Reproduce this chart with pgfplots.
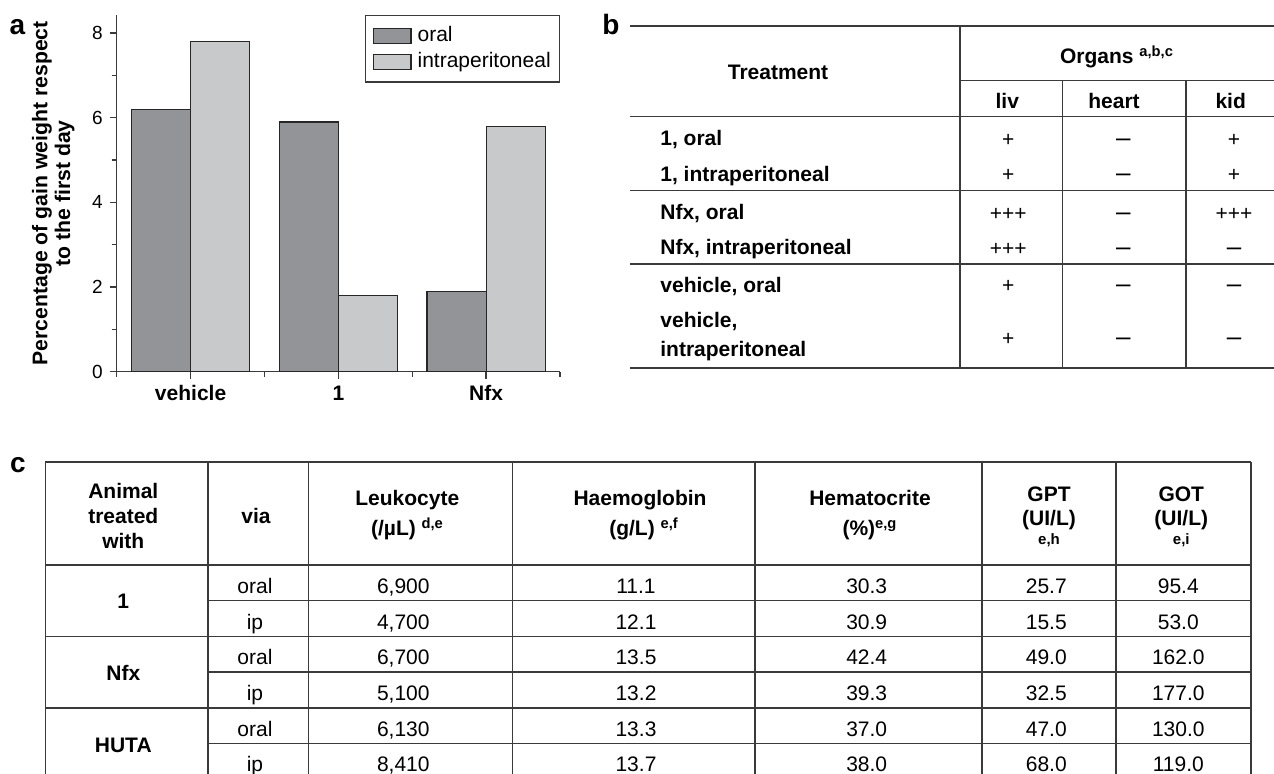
\documentclass[border=0pt]{standalone}
\usepackage{fontspec}
\setmainfont{Liberation Sans}
\usepackage{pgfplots}
\pgfplotsset{compat=1.18}

\definecolor{oralgray}{HTML}{939498}
\definecolor{ipgray}{HTML}{C8C9CB}
\definecolor{linegray}{HTML}{3A3A3A}

\newcommand{\pl}{+}
\newcommand{\mn}{{\fontsize{13}{14}\selectfont\textendash}}

\begin{document}
\begin{tikzpicture}
\path[use as bounding box] (0,0) rectangle (637pt,-387pt);

% panel a: weight gain
\begin{axis}[
  at={(58.35pt,-185.8pt)}, anchor=south west,
  scale only axis, width=221.65pt, height=178.3pt,
  xmin=-0.5, xmax=2.5, ymin=0, ymax=8.43,
  axis lines=left,
  axis line style={-, draw=linegray, line width=0.7pt},
  every tick/.style={draw=linegray, line width=0.7pt},
  every minor tick/.style={draw=linegray, line width=0.7pt},
  tick align=outside,
  major tick length=3.5pt, minor tick length=2.5pt,
  xtick={0,1,2}, xticklabels={vehicle,1,Nfx},
  minor xtick={-0.5,0.5,1.5,2.5},
  ytick={0,2,4,6,8}, minor ytick={1,3,5,7},
  /pgf/number format/assume math mode=true,
  yticklabel style={font=\fontsize{9.5}{11}\selectfont},
  xticklabel style={font=\bfseries\fontsize{10.5}{12}\selectfont},
  ylabel={Percentage of gain weight respect\\to the first day},
  ylabel style={font=\bfseries\fontsize{10.6}{11.4}\selectfont, align=center,
    at={(axis description cs:-0.143,0.5)}, anchor=center},
  ybar=0pt, bar width=0.4,
  legend cell align=left,
  legend style={at={(1,1)}, anchor=north east, draw=linegray, line width=0.6pt,
    inner xsep=3.55pt, inner ysep=4.3pt, font=\fontsize{10.5}{12}\selectfont,
    nodes={inner sep=0.8pt, text height=7.8pt, text depth=2.4pt},
    row sep=1pt,
    /tikz/every odd column/.append style={column sep=2.25pt}},
  legend image code/.code={\draw[#1] (0pt,-3.75pt) rectangle (18.8pt,3.75pt);},
]
\addplot[fill=oralgray, draw=black!85, line width=0.6pt, bar shift=-0.2]
  coordinates {(0,6.2) (1,5.9) (2,1.9)};
\addplot[fill=ipgray, draw=black!85, line width=0.6pt, bar shift=0.2]
  coordinates {(0,7.8) (1,1.8) (2,5.8)};
\legend{oral, intraperitoneal}
\end{axis}

\begin{scope}[x=0.5pt, y=-0.5pt,
  bf/.style={font=\bfseries\fontsize{10.5}{12}\selectfont, inner sep=0pt, anchor=base},
  rg/.style={font=\fontsize{10.5}{12}\selectfont, inner sep=0pt, anchor=base},
  tl/.style={draw=linegray, line width=0.8pt},
  letter/.style={font=\bfseries\fontsize{14}{16}\selectfont, inner sep=0pt, anchor=base}]

\node[letter] at (17.5,35) {a};

% panel b: organs table
\node[letter] at (611,35) {b};
\draw[tl] (630,26) -- (1274,26);
\draw[tl] (960,26) -- (960,368.3);
\draw[tl] (960,80.7) -- (1274,80.7);
\draw[tl] (630,116.7) -- (1274,116.7);
\draw[tl] (1062.3,80.7) -- (1062.3,368.3);
\draw[tl] (1185.7,80.7) -- (1185.7,368.3);
\foreach \y in {190.7,264,368.3} \draw[tl] (630,\y) -- (1274,\y);

\node[bf] at (778,80) {Treatment};
\node[bf] at (1117,64) {Organs \textsuperscript{a,b,c}};
\node[bf] at (1007.3,109) {liv};
\node[bf] at (1114,109) {heart};
\node[bf] at (1230.7,109) {kid};

\foreach \lab/\y in {{1, oral}/146, {1, intraperitoneal}/182, {Nfx, oral}/220,
    {Nfx, intraperitoneal}/255, {vehicle, oral}/293, {vehicle,}/328, {intraperitoneal}/357}
  \node[bf, anchor=base west] at (660,\y) {\lab};

\foreach \l/\h/\k/\y in {\pl/\mn/\pl/147, \pl/\mn/\pl/182, +++/\mn/+++/220.5,
    +++/\mn/\mn/255.5, \pl/\mn/\mn/293, \pl/\mn/\mn/345.5} {
  \node[rg] at (1008.3,\y) {\l};
  \node[rg] at (1123.3,\y) {\h};
  \node[rg] at (1234,\y) {\k};
}

% panel c: blood values table
\node[letter] at (18,473) {c};
\draw[tl] (45.3,462.3) -- (1250.7,462.3);
\foreach \x in {45.3,207.7,308.3,512.3,755,981.7,1115.7,1250.7}
  \draw[tl] (\x,462.3) -- (\x,780);
\draw[tl] (45.3,565) -- (1250.7,565);
\foreach \y in {636.3,707.7} \draw[tl] (45.3,\y) -- (1250.7,\y);
\foreach \y in {600.7,672,743.3} \draw[tl] (207.7,\y) -- (1250.7,\y);

\node[bf] at (123.3,498.3) {Animal};
\node[bf] at (123.3,523.3) {treated};
\node[bf] at (123.3,549) {with};
\node[bf] at (256,523.3) {via};
\node[bf] at (407.3,505.7) {Leukocyte};
\node[bf] at (407.5,536) {(/µL) \textsuperscript{d,e}};
\node[bf] at (640,505.7) {Haemoglobin};
\node[bf] at (644,536) {(g/L) \textsuperscript{e,f}};
\node[bf] at (870,505.7) {Hematocrite};
\node[bf] at (870,536) {(\%)\textsuperscript{e,g}};
\node[bf] at (1049,501.7) {GPT};
\node[bf] at (1049,526) {(UI/L)};
\node[bf, font=\bfseries\fontsize{7.5}{9}\selectfont] at (1049,545) {e,h};
\node[bf] at (1181.3,501.7) {GOT};
\node[bf] at (1181.3,526) {(UI/L)};
\node[bf, font=\bfseries\fontsize{7.5}{9}\selectfont] at (1181.3,545) {e,i};

\node[bf] at (123.3,608.3) {1};
\node[bf] at (123.3,680.7) {Nfx};
\node[bf] at (123.3,752.5) {HUTA};

\foreach \v/\a/\b/\c/\d/\e [count=\i from 0] in {
    oral/{6,900}/11.1/30.3/25.7/95.4,
    ip/{4,700}/12.1/30.9/15.5/53.0,
    oral/{6,700}/13.5/42.4/49.0/162.0,
    ip/{5,100}/13.2/39.3/32.5/177.0,
    oral/{6,130}/13.3/37.0/47.0/130.0,
    ip/{8,410}/13.7/38.0/68.0/119.0} {
  \pgfmathsetmacro\yb{593.3+35.7*\i}
  \node[rg] at (255,\yb) {\v};
  \node[rg] at (403.3,\yb) {\a};
  \node[rg] at (636,\yb) {\b};
  \node[rg] at (866.7,\yb) {\c};
  \node[rg] at (1046.3,\yb) {\d};
  \node[rg] at (1178.3,\yb) {\e};
}
\end{scope}
\end{tikzpicture}
\end{document}
